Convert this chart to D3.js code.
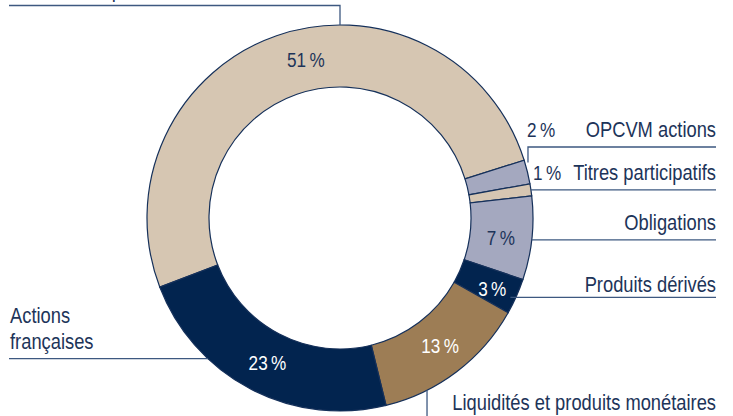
<!DOCTYPE html>
<html>
<head>
<meta charset="utf-8">
<script src="https://cdn.jsdelivr.net/npm/d3@7"></script>
<style>
  body { margin: 0; background: #fff; }
  svg text { font-family: "Liberation Sans", Arial, sans-serif; }
</style>
</head>
<body>
<script>
'use strict';

// Data
const categories = [
    "Actions européennes",
    "OPCVM actions",
    "Titres participatifs",
    "Obligations",
    "Produits dérivés",
    "Liquidités et produits monétaires",
    "Actions françaises"
];
const shares = [51, 2, 1, 7, 3, 13, 23];
const percentLabels = ["51\u202F%", "2\u202F%", "1\u202F%", "7\u202F%", "3\u202F%", "13\u202F%", "23\u202F%"];

(function () {
    const W = 733, H = 416;
    const cx = 340, cy = 218;
    const rIn = 131, rOut = 193;
    const deg = Math.PI / 180;
    const squeeze = 0.857; // condensed look

    const navy = "#02244f";
    const textCol = "#1d3459";
    const lineCol = "#3d5880";
    const colors = ["#d6c6b2", "#a4a8bf", "#d6c6b2", "#a4a8bf", navy, "#9d7d55", navy];
    const pctColor = [textCol, textCol, textCol, textCol, "#fff", "#fff", "#fff"];

    const svg = d3.select("body").append("svg")
        .attr("width", W)
        .attr("height", H);

    const g = svg.append("g").attr("transform", `translate(${cx},${cy})`);

    const pie = d3.pie().sort(null).value(d => d)
        .startAngle(-111 * deg)
        .endAngle(249 * deg);
    const arcs = pie(shares);

    const arc = d3.arc().innerRadius(rIn).outerRadius(rOut);

    g.selectAll("path.slice")
        .data(arcs)
        .enter()
        .append("path")
        .attr("class", "slice")
        .attr("d", arc)
        .attr("fill", (d, i) => colors[i])
        .attr("stroke", "#15305a")
        .attr("stroke-width", 1.2);

    // point on the outer edge at an angle (degrees, clockwise from top)
    function edge(a, r) {
        r = r || rOut;
        return [cx + r * Math.sin(a * deg), cy - r * Math.cos(a * deg)];
    }

    function label(x, y, txt, anchor, col, size, dy) {
        svg.append("text")
            .attr("transform", `translate(${x},${y}) scale(${squeeze},1)`)
            .attr("dy", dy || 0)
            .attr("text-anchor", anchor || "start")
            .attr("font-size", size || 21.4)
            .attr("fill", col || textCol)
            .text(txt);
    }

    // percent labels inside the ring (the two small slices get theirs outside)
    const nudge = [7, 0, 0, 1, 1, -1, -1];
    arcs.forEach((d, i) => {
        if (i === 1 || i === 2) return;
        const mid = (d.startAngle + d.endAngle) / 2 + nudge[i] * deg;
        const r = i === 4 ? rIn + 37 : rIn + 31;
        label(cx + r * Math.sin(mid), cy - r * Math.cos(mid), percentLabels[i],
            "middle", pctColor[i], 20, "0.36em");
    });

    // leader lines
    const line = d3.line();
    const rightX = 716, leftX = 9;
    const leaders = [];
    // top label
    const pTop = edge(0);
    leaders.push([pTop, [pTop[0], 5.5], [leftX, 5.5]]);
    // OPCVM actions
    const p2 = edge(74.5);
    leaders.push([[p2[0] + 2, p2[1] - 4], [p2[0] + 2, 147], [rightX, 147]]);
    // Titres participatifs
    const a1 = (arcs[2].startAngle + arcs[2].endAngle) / 2 / deg;
    const p1 = edge(a1);
    leaders.push([p1, [rightX, p1[1]]]);
    // Obligations
    const p7 = edge(96.5);
    leaders.push([p7, [rightX, p7[1]]]);
    // Produits dérivés
    const p3 = edge(115, rOut - 5);
    leaders.push([p3, [rightX, p3[1]]]);
    // Liquidités
    const p13 = edge(153.2);
    leaders.push([p13, [p13[0], H + 2]]);
    // Actions françaises
    const p23 = edge(223.2);
    leaders.push([p23, [leftX, p23[1]]]);

    svg.append("g")
        .selectAll("path")
        .data(leaders)
        .enter()
        .append("path")
        .attr("d", line)
        .attr("fill", "none")
        .attr("stroke", lineCol)
        .attr("stroke-width", 1.3);

    // category labels
    label(10, -3, categories[0]);
    label(527, 137, percentLabels[1], "start", textCol, 20);
    label(rightX, 137, categories[1], "end");
    label(533, 180, percentLabels[2], "start", textCol, 20);
    label(rightX, 180, categories[2], "end");
    label(rightX, 230, categories[3], "end");
    label(rightX, 292, categories[4], "end");
    label(rightX, 410, categories[5], "end");
    label(10, 323, "Actions");
    label(10, 349, "françaises");
})();
</script>
</body>
</html>
